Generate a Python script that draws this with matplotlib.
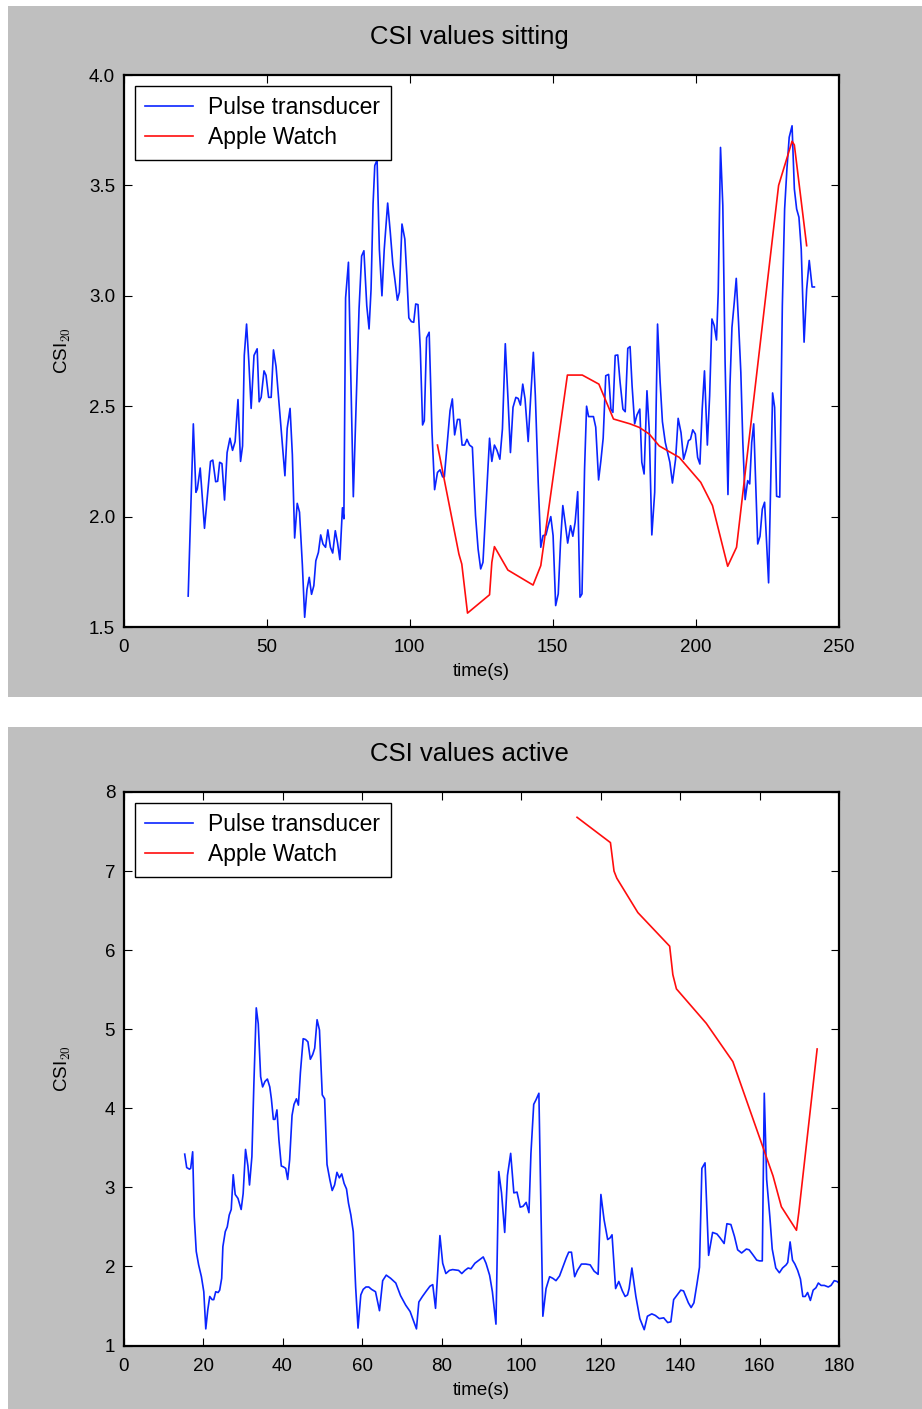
import matplotlib
matplotlib.use("Agg")
import matplotlib.pyplot as plt
from matplotlib.patches import Rectangle

# CSI_20 while sitting: pulse transducer trace
sit_pulse_t = [22.6, 24.4, 25.3, 25.8, 26.8, 28.3, 30.4, 31.2, 32.2, 32.9,
               33.6, 34.4, 35.3, 36.2, 37.2, 38.1, 39.0, 40.0, 40.9, 41.6,
               42.2, 43.0, 43.8, 44.6, 45.6, 46.7, 47.4, 48.1, 49.1, 49.8,
               50.7, 51.6, 52.4, 53.3, 54.3, 56.4, 57.2, 58.2, 59.0, 59.8,
               60.7, 61.5, 62.5, 63.3, 64.1, 64.9, 65.7, 66.5, 67.2, 68.1,
               68.9, 69.7, 70.6, 71.4, 72.3, 73.1, 74.0, 74.8, 75.6, 76.5,
               77.0, 77.6, 78.6, 80.3, 82.3, 83.2, 84.0, 85.0, 85.8, 86.5,
               87.2, 87.8, 88.6, 89.4, 90.3, 91.1, 92.3, 93.2, 94.1, 94.8,
               95.7, 96.4, 97.3, 98.3, 99.0, 99.7, 100.6, 101.4, 102.1, 102.9,
               103.7, 104.5, 105.1, 105.9, 106.8, 107.8, 108.7, 109.7, 110.6, 111.5,
               112.1, 113.2, 114.1, 114.9, 115.7, 116.7, 117.5, 118.3, 119.2, 120.0,
               120.9, 121.9, 123.0, 123.9, 124.8, 125.6, 126.7, 127.9, 128.7, 129.6,
               130.5, 131.5, 132.4, 133.4, 134.4, 135.2, 136.1, 137.1, 137.9, 138.7,
               139.5, 140.3, 141.4, 142.3, 143.2, 143.9, 144.9, 145.8, 146.6, 147.6,
               148.4, 149.3, 150.1, 151.0, 151.9, 152.7, 153.5, 154.3, 155.2, 156.2,
               157.0, 157.8, 158.7, 159.5, 160.2, 161.1, 161.8, 162.5, 163.4, 164.2,
               165.0, 166.0, 166.8, 167.6, 168.5, 169.5, 170.3, 171.0, 171.8, 172.7,
               173.5, 174.5, 175.3, 176.2, 177.0, 177.7, 178.6, 179.4, 180.4, 181.1,
               181.9, 182.9, 183.7, 184.6, 185.6, 186.6, 187.5, 188.3, 189.3, 190.1,
               190.9, 191.8, 192.9, 193.8, 194.8, 195.7, 196.6, 197.4, 198.1, 198.9,
               199.8, 200.6, 201.4, 202.2, 203.0, 204.0, 204.8, 205.6, 206.4, 207.2,
               207.8, 208.6, 209.4, 210.2, 211.2, 211.9, 212.6, 213.4, 214.1, 214.9,
               215.7, 216.4, 217.2, 218.1, 218.8, 219.5, 220.2, 220.9, 221.6, 222.4,
               223.2, 224.0, 224.7, 225.4, 226.1, 226.8, 227.5, 228.2, 229.3, 230.2,
               231.0, 231.8, 232.6, 233.6, 234.4, 235.2, 236.0, 236.8, 237.8, 238.7,
               239.6, 240.6, 241.4]
sit_pulse_csi = [1.64, 2.42, 2.11, 2.125, 2.22, 1.947, 2.25, 2.256, 2.158, 2.16,
                 2.246, 2.24, 2.075, 2.29, 2.355, 2.30, 2.34, 2.53, 2.25, 2.32,
                 2.73, 2.872, 2.70, 2.49, 2.73, 2.76, 2.52, 2.54, 2.66, 2.64,
                 2.54, 2.54, 2.755, 2.68, 2.52, 2.185, 2.40, 2.49, 2.28, 1.903,
                 2.06, 2.02, 1.78, 1.544, 1.67, 1.725, 1.648, 1.687, 1.80, 1.838,
                 1.917, 1.876, 1.861, 1.94, 1.861, 1.835, 1.936, 1.88, 1.805, 2.04,
                 1.99, 2.99, 3.152, 2.09, 2.94, 3.18, 3.204, 2.955, 2.85, 3.03,
                 3.416, 3.59, 3.615, 3.21, 3.00, 3.21, 3.42, 3.29, 3.144, 3.076,
                 2.98, 3.016, 3.325, 3.257, 3.09, 2.90, 2.883, 2.88, 2.963, 2.96,
                 2.76, 2.415, 2.434, 2.81, 2.835, 2.38, 2.122, 2.20, 2.212, 2.18,
                 2.18, 2.344, 2.48, 2.533, 2.37, 2.44, 2.44, 2.324, 2.324, 2.35,
                 2.324, 2.314, 2.004, 1.853, 1.763, 1.793, 2.065, 2.355, 2.25, 2.324,
                 2.30, 2.26, 2.397, 2.783, 2.518, 2.29, 2.495, 2.54, 2.535, 2.505,
                 2.60, 2.533, 2.34, 2.547, 2.744, 2.547, 2.155, 1.861, 1.914, 1.917,
                 1.959, 2.0, 1.914, 1.597, 1.65, 1.884, 2.05, 1.974, 1.88, 1.959,
                 1.911, 1.974, 2.113, 1.635, 1.65, 2.216, 2.50, 2.453, 2.453, 2.453,
                 2.405, 2.166, 2.253, 2.355, 2.638, 2.644, 2.487, 2.472, 2.73, 2.732,
                 2.61, 2.487, 2.475, 2.762, 2.77, 2.593, 2.42, 2.46, 2.487, 2.246,
                 2.193, 2.57, 2.39, 1.917, 2.11, 2.872, 2.61, 2.43, 2.336, 2.29,
                 2.246, 2.152, 2.26, 2.445, 2.38, 2.26, 2.30, 2.344, 2.35, 2.393,
                 2.374, 2.268, 2.238, 2.487, 2.66, 2.324, 2.547, 2.895, 2.865, 2.80,
                 3.016, 3.672, 3.41, 2.70, 2.10, 2.593, 2.857, 2.97, 3.079, 2.88,
                 2.653, 2.336, 2.077, 2.163, 2.148, 2.336, 2.42, 2.155, 1.876, 1.911,
                 2.034, 2.065, 1.884, 1.70, 2.14, 2.56, 2.495, 2.092, 2.088, 2.955,
                 3.393, 3.574, 3.718, 3.77, 3.484, 3.393, 3.356, 3.212, 2.79, 3.03,
                 3.16, 3.04, 3.04]

# CSI_20 while sitting: Apple Watch
sit_watch_t = [109.7, 117.2, 118.2, 120.2, 127.9, 128.7, 129.6, 134.3, 143.1, 145.8,
               155.1, 160.3, 166.1, 171.2, 177.0, 180.2, 183.7, 187.2, 194.2, 201.7,
               205.8, 211.1, 214.2, 228.9, 233.6, 234.4, 238.7]
sit_watch_csi = [2.324, 1.83, 1.785, 1.563, 1.646, 1.793, 1.864, 1.758, 1.69, 1.778,
                 2.641, 2.641, 2.60, 2.442, 2.42, 2.404, 2.374, 2.32, 2.268, 2.155,
                 2.05, 1.775, 1.861, 3.50, 3.70, 3.683, 3.227]

# CSI_20 while active: pulse transducer trace
act_pulse_t = [15.4, 15.9, 16.6, 16.9, 17.4, 17.8, 18.3, 18.9, 19.6, 20.2,
               20.7, 21.2, 21.7, 22.3, 22.7, 23.2, 23.8, 24.2, 24.7, 25.0,
               25.6, 26.1, 26.6, 27.1, 27.6, 28.1, 28.8, 29.6, 30.1, 30.7,
               31.3, 31.7, 32.3, 32.8, 33.4, 33.9, 34.5, 35.0, 35.6, 36.2,
               36.8, 37.2, 37.7, 38.1, 38.6, 39.1, 39.7, 40.2, 40.8, 41.3,
               41.8, 42.4, 42.9, 43.5, 44.0, 44.5, 45.2, 45.8, 46.4, 47.0,
               47.6, 48.1, 48.7, 49.3, 50.0, 50.6, 51.2, 51.9, 52.5, 53.1,
               53.7, 54.3, 54.9, 55.5, 56.1, 56.6, 57.2, 57.8, 58.4, 59.0,
               59.7, 60.3, 61.0, 61.7, 62.4, 63.4, 64.4, 65.2, 66.1, 67.2,
               68.5, 69.7, 71.0, 72.1, 73.7,
               74.3, 75.2, 76.2, 77.1, 77.8, 78.5, 79.6, 80.3, 81.1, 82.0,
               82.8, 84.3, 85.1, 85.9, 86.7, 87.4, 88.4, 89.7, 90.5, 91.2,
               92.1, 92.8, 93.7, 94.4, 95.1, 95.9, 96.6, 97.4, 98.2, 99.0,
               99.8, 100.5, 101.3, 102.0, 102.5, 103.2, 103.8, 104.5, 105.5, 106.3,
               107.2, 108.0, 108.8, 109.7, 110.5, 111.4, 112.0, 112.7, 113.5, 114.2,
               115.2, 116.3, 117.4, 118.4, 119.4, 120.1, 120.9, 121.8, 122.4, 122.9,
               123.8, 124.6, 125.5, 126.2,
               126.8, 127.2, 127.9, 128.9, 129.9, 131.0, 131.8, 132.9, 133.8, 134.8,
               135.9, 136.9, 137.7, 138.4, 139.0, 140.2, 140.9, 142.1, 142.8, 143.5,
               144.3, 144.9, 145.5, 146.3, 147.2, 148.2, 149.3, 150.1, 151.1, 151.8,
               152.8, 153.7, 154.5, 155.5, 156.7, 157.4, 158.3, 159.3, 160.0, 160.7,
               161.2, 161.8, 162.6, 163.2, 164.1, 165.0, 165.8, 166.7, 167.1, 167.7,
               168.3, 168.9, 169.6, 170.3, 170.9, 171.5, 172.1, 172.8, 173.5, 174.2,
               174.8, 175.5, 176.3, 177.3, 178.0, 178.8, 179.5, 180.5]
act_pulse_csi = [3.42, 3.25, 3.23, 3.24, 3.45, 2.63, 2.19, 2.02, 1.87, 1.68,
                 1.21, 1.45, 1.62, 1.58, 1.58, 1.68, 1.67, 1.70, 1.85, 2.25,
                 2.44, 2.50, 2.65, 2.72, 3.16, 2.91, 2.86, 2.72, 2.92, 3.48,
                 3.27, 3.03, 3.39, 4.31, 5.27, 5.07, 4.40, 4.27, 4.34, 4.37,
                 4.27, 4.12, 3.86, 3.86, 3.98, 3.60, 3.27, 3.26, 3.24, 3.10,
                 3.35, 3.91, 4.05, 4.12, 4.04, 4.45, 4.88, 4.87, 4.84, 4.62,
                 4.68, 4.76, 5.12, 4.99, 4.17, 4.12, 3.29, 3.10, 2.96, 3.03,
                 3.19, 3.12, 3.17, 3.05, 2.98, 2.80, 2.65, 2.44, 1.74, 1.22,
                 1.64, 1.71, 1.74, 1.74, 1.71, 1.68, 1.44, 1.82, 1.89, 1.85,
                 1.79, 1.63, 1.51, 1.43, 1.21,
                 1.55, 1.62, 1.69, 1.75, 1.77, 1.47, 2.39, 2.04, 1.91, 1.95,
                 1.96, 1.95, 1.91, 1.95, 1.98, 1.97, 2.04, 2.09, 2.12, 2.04,
                 1.89, 1.68, 1.27, 3.20, 2.93, 2.43, 3.15, 3.43, 2.93, 2.94,
                 2.75, 2.76, 2.81, 2.68, 3.43, 4.05, 4.11, 4.19, 1.37, 1.72,
                 1.87, 1.85, 1.82, 1.88, 1.99, 2.11, 2.18, 2.18, 1.87, 1.95,
                 2.03, 2.03, 2.02, 1.94, 1.90, 2.91, 2.59, 2.34, 2.36, 2.40,
                 1.72, 1.81, 1.69, 1.62,
                 1.64, 1.72, 1.98, 1.62, 1.34, 1.20, 1.37, 1.40, 1.38, 1.34,
                 1.35, 1.29, 1.30, 1.58, 1.62, 1.70, 1.69, 1.54, 1.48, 1.54,
                 1.79, 1.99, 3.24, 3.31, 2.14, 2.43, 2.41, 2.36, 2.29, 2.54,
                 2.53, 2.38, 2.21, 2.17, 2.22, 2.21, 2.15, 2.08, 2.07, 2.07,
                 4.19, 3.10, 2.63, 2.22, 1.98, 1.92, 1.98, 2.02, 2.05, 2.31,
                 2.08, 2.03, 1.95, 1.84, 1.62, 1.62, 1.67, 1.57, 1.70, 1.73,
                 1.79, 1.76, 1.76, 1.74, 1.76, 1.82, 1.81, 1.77]

# CSI_20 while active: Apple Watch
act_watch_t = [114.1, 122.5, 123.4, 124.1, 129.4, 137.4, 138.2, 139.1, 146.6, 153.3,
               163.4, 165.5, 169.3, 169.9, 174.5]
act_watch_csi = [7.68, 7.36, 7.0, 6.91, 6.475, 6.05, 5.69, 5.51, 5.075, 4.59,
                 3.145, 2.755, 2.457, 2.687, 4.75]

sit_xticks = [0, 50, 100, 150, 200, 250]
sit_yticks = [1.5, 2.0, 2.5, 3.0, 3.5, 4.0]
act_xticks = [0, 20, 40, 60, 80, 100, 120, 140, 160, 180]
act_yticks = [1, 2, 3, 4, 5, 6, 7, 8]

assert len(sit_pulse_t) == len(sit_pulse_csi)
assert len(sit_watch_t) == len(sit_watch_csi)
assert len(act_pulse_t) == len(act_pulse_csi)
assert len(act_watch_t) == len(act_watch_csi)

plt.rcParams['font.family'] = ['Liberation Sans', 'DejaVu Sans']
plt.rcParams['mathtext.fontset'] = 'cm'

W, H = 922, 1409
fig = plt.figure(figsize=(W / 100, H / 100), dpi=100)
fig.patch.set_facecolor('white')

# grey backgrounds behind each panel
for top, bottom in [(6, 697), (727, 1409)]:
    fig.patches.append(Rectangle((8 / W, 1 - bottom / H), 1 - 8 / W, (bottom - top) / H,
                                 transform=fig.transFigure, facecolor='#bfbfbf',
                                 edgecolor='none', zorder=-10))


def make_axes(top, bottom):
    left, right = 123.5, 839.0
    return fig.add_axes([left / W, 1 - bottom / H, (right - left) / W, (bottom - top) / H])


def style_axes(ax, xticks, yticks, yfmt):
    ax.set_xticks(xticks)
    ax.set_yticks(yticks)
    ax.set_yticklabels([yfmt.format(v) for v in yticks])
    ax.tick_params(direction='in', length=6, width=0.8, top=True, right=True,
                   labelsize=13.5, colors='black')
    ax.tick_params(axis='x', pad=9)
    ax.tick_params(axis='y', pad=6)
    for sp in ax.spines.values():
        sp.set_linewidth(1.6)
    ax.set_xlabel('time(s)', fontsize=13.5)
    ax.xaxis.set_label_coords(0.5, -0.066)
    ax.set_ylabel(r'CSI$_{20}$', fontsize=13.5)
    ax.yaxis.set_label_coords(-0.07, 0.5)
    ax.legend(loc='upper left', bbox_to_anchor=(0.016, 0.98), borderaxespad=0,
              fontsize=16.5, fancybox=False, framealpha=1, edgecolor='black',
              handlelength=2.1, handletextpad=0.65, borderpad=0.45, labelspacing=0.3)
    ax.get_legend().get_frame().set_linewidth(1.0)


# sitting
ax1 = make_axes(75, 627)
ax1.set_zorder(1)
ax1.plot(sit_pulse_t, sit_pulse_csi, color='#0a24ff', lw=1.2, label='Pulse transducer')
ax1.plot(sit_watch_t, sit_watch_csi, color='#ff0d0d', lw=1.2, label='Apple Watch')
ax1.set_xlim(0, 250)
ax1.set_ylim(1.5, 4.0)
style_axes(ax1, sit_xticks, sit_yticks, '{:.1f}')
fig.text(469 / W, 1 - 37 / H, 'CSI values sitting', ha='center', va='center', fontsize=18.5)

# active
ax2 = make_axes(792, 1345.5)
ax2.set_zorder(1)
ax2.plot(act_pulse_t, act_pulse_csi, color='#0a24ff', lw=1.2, label='Pulse transducer')
ax2.plot(act_watch_t, act_watch_csi, color='#ff0d0d', lw=1.2, label='Apple Watch')
ax2.set_xlim(0, 180)
ax2.set_ylim(1, 8)
style_axes(ax2, act_xticks, act_yticks, '{:d}')
fig.text(469 / W, 1 - 754 / H, 'CSI values active', ha='center', va='center', fontsize=18.5)

fig.savefig('out.png', dpi=100, facecolor='white')
